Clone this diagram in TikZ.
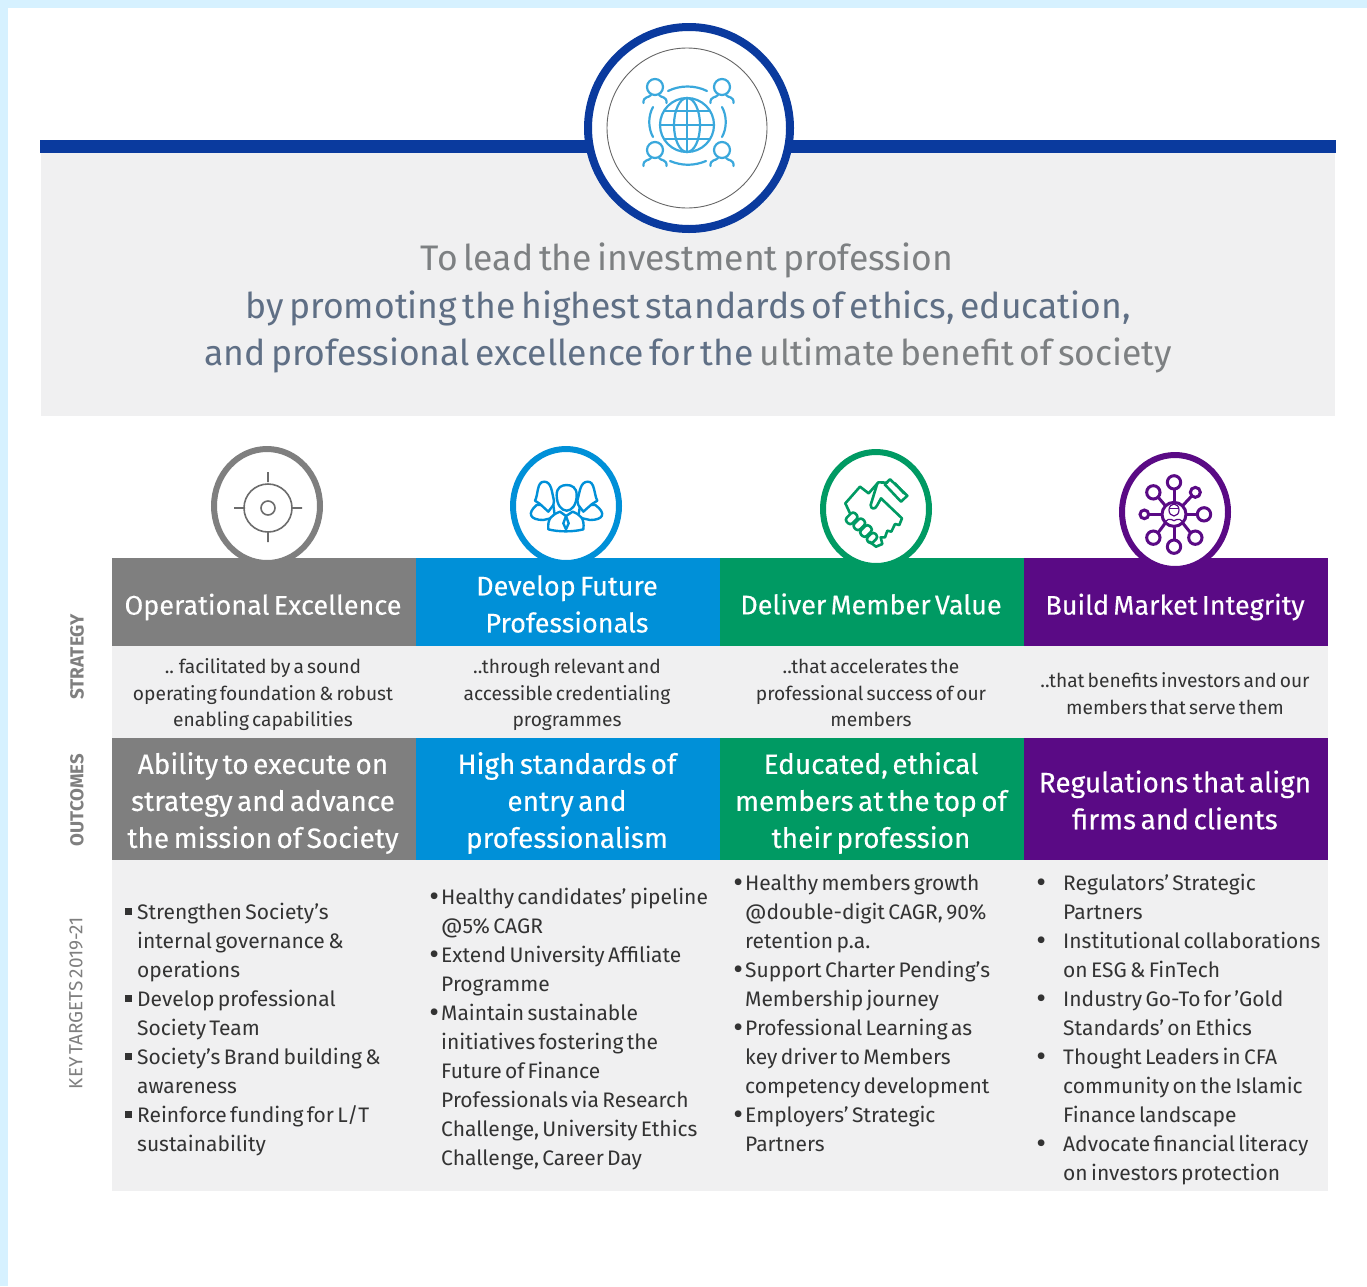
\documentclass[tikz,border=0pt]{standalone}
\usepackage{fontspec}
\setmainfont{Fira Sans}[WordSpace=0.6]
\newfontfamily\headf{Fira Sans}[WordSpace=0.6,FakeBold=0.25]
\definecolor{edgeblue}{HTML}{D6F1FF}
\definecolor{navy}{HTML}{0A3A9E}
\definecolor{panel}{HTML}{F0F0F1}
\definecolor{cgray}{HTML}{7F7F7F}
\definecolor{cblue}{HTML}{0090D8}
\definecolor{cgreen}{HTML}{009A63}
\definecolor{cpurple}{HTML}{5A0A85}
\definecolor{iconblue}{HTML}{3AA8DC}
\definecolor{sl}{HTML}{5F6F85}
\definecolor{gl}{HTML}{7D8082}
\definecolor{ink}{HTML}{333333}
\newcommand\fsz[2]{\fontsize{#1}{#2}\selectfont}
\tikzset{
  x=1pt,y=-1pt,
  headtxt/.style={text=white,align=center,inner sep=0pt,font=\headf\fsz{27}{37}},
  desctxt/.style={text=ink,align=center,inner sep=0pt,font=\fsz{19.2}{26.5}},
  outtxt/.style={text=white,align=center,inner sep=0pt,font=\headf\fsz{28}{37}},
  listtxt/.style={text=ink,anchor=base west,align=left,inner sep=0pt,font=\fsz{21}{29}},
  sidetxt/.style={text=cgray,rotate=90,inner sep=0pt},
  titletxt/.style={inner sep=0pt,font=\fsz{35.5}{47}},
  ring/.style={line width=6pt,fill=white},
}
\newcommand\bigdot{\raisebox{-2pt}{\fsz{30}{29}•}}
\newcommand\bul{\llap{\bigdot\hspace{2pt}}}
\newcommand\bulw{\llap{\bigdot\hspace{17pt}}}
\newcommand\sq{\llap{\rule[4.5pt]{7pt}{7pt}\hspace{5pt}}}
\newcommand\person[3]{%
  \draw[iconblue,line width=2.2pt,line cap=round] (#1,#2) circle[radius=8];
  \draw[iconblue,line width=2.2pt,line cap=round] (#1-11.5,#2+#3) .. controls (#1-12,#2+9) and (#1-6,#2+11) .. (#1-4,#2+8);
  \draw[iconblue,line width=2.2pt,line cap=round] (#1+11.5,#2+#3) .. controls (#1+12,#2+9) and (#1+6,#2+11) .. (#1+4,#2+8);
}
\begin{document}
\begin{tikzpicture}
\useasboundingbox (0,0) rectangle (1367,1286);
\fill[white] (0,0) rectangle (1367,1286);
\fill[edgeblue] (0,0) rectangle (1367,8);
\fill[edgeblue] (0,0) rectangle (8,1286);
% top panel
\fill[panel] (41,153) rectangle (1335,416);
\fill[navy] (40,140) rectangle (1336,153);
\draw[navy,line width=8pt,fill=white] (689,128) circle[radius=101];
\draw[black!60,line width=0.9pt] (687,128) circle[radius=80];
% globe icon
\begin{scope}
\draw[iconblue,line width=2.2pt] (687,125) circle[radius=27];
\draw[iconblue,line width=2.2pt] (687,125) ellipse[x radius=13,y radius=27];
\draw[iconblue,line width=2.2pt] (687,98) -- (687,152) (660,125) -- (714,125);
\draw[iconblue,line width=2.2pt] (664,111) -- (710,111) (664,139) -- (710,139);
\person{655}{87}{16}
\person{722}{87}{16}
\person{655}{150}{16}
\person{722}{150}{16}
\draw[iconblue,line width=2.2pt,line cap=round] (668,91) .. controls (680,85) and (695,85) .. (707,91);
\draw[iconblue,line width=2.2pt,line cap=round] (670,161) .. controls (682,166) and (694,166) .. (706,161);
\draw[iconblue,line width=2.2pt,line cap=round] (653,107) .. controls (648,116) and (648,128) .. (653,137);
\draw[iconblue,line width=2.2pt,line cap=round] (722,107) .. controls (727,116) and (727,128) .. (722,137);
\end{scope}
% title
\node[titletxt,text=gl] (t1) at (687,260.5) {To lead the investment profession};
\node[titletxt,text=sl] (t2) at (688,308.5) {by promoting the highest standards of ethics, education,};
\node[titletxt,text=sl] (t3) at (688,355.5) {and professional excellence for the {\color{gl}ultimate benefit of society}};
% bars
\foreach \xa/\c in {112/cgray,416/cblue,720/cgreen,1024/cpurple}{
  \fill[\c] (\xa,558) rectangle +(304,88);
  \fill[\c] (\xa,738) rectangle +(304,122);
}
\fill[panel] (112,646) rectangle (1328,738);
\fill[panel] (112,860) rectangle (1328,1191);
% rings
\draw[cgray,ring] (267,506) ellipse[x radius=53,y radius=57];
\draw[cblue,ring] (566,506) ellipse[x radius=53,y radius=57];
\draw[cgreen,ring] (876,509) ellipse[x radius=53,y radius=57];
\draw[cpurple,ring] (1175,512) ellipse[x radius=53,y radius=57];
% target icon
\draw[cgray!85!black,line width=1.6pt] (268,508) circle[radius=24] (268,508) circle[radius=7]
  (234,508) -- (245,508) (291,508) -- (302,508) (268,472) -- (268,482) (268,532) -- (268,542);
% people icon
\begin{scope}[shift={(190,430)},scale=1/3,cblue,line width=2.4pt,line join=round]
\draw[fill=white] (1040,225) .. controls (1010,250) and (1020,270) .. (1060,270) -- (1095,262) -- (1090,225) -- cycle;
\draw[fill=white] (1216,225) .. controls (1250,250) and (1240,270) .. (1200,270) -- (1165,262) -- (1170,225) -- cycle;
\draw[fill=white] (1035,212) .. controls (1045,195) and (1040,155) .. (1062,155) .. controls (1085,155) and (1085,185) .. (1092,212) -- (1090,225) -- (1075,245) -- (1050,222) -- cycle;
\draw[fill=white] (1222,212) .. controls (1212,195) and (1215,155) .. (1194,155) .. controls (1170,155) and (1170,185) .. (1162,212) -- (1165,225) -- (1180,245) -- (1206,222) -- cycle;
\draw[fill=white] (1075,298) .. controls (1072,265) and (1085,255) .. (1110,245) -- (1128,258) -- (1148,245) .. controls (1172,255) and (1184,265) .. (1180,298) .. controls (1150,306) and (1105,306) .. (1075,298) -- cycle;
\draw[fill=white] (1100,195) .. controls (1100,172) and (1115,165) .. (1130,165) .. controls (1145,165) and (1160,172) .. (1160,195) .. controls (1160,225) and (1145,242) .. (1130,242) .. controls (1115,242) and (1100,225) .. (1100,195) -- cycle;
\draw (1128,258) -- (1120,280) -- (1128,298) -- (1136,280) -- cycle;
\end{scope}
% handshake icon
\begin{scope}[shift={(800,430)},scale=1/3,cgreen,line width=2.6pt,line join=round,line cap=round]
\draw (136,220) -- (180,170) -- (206,190) -- (235,157) -- (262,158);
\draw (270,148) -- (322,197) -- (303,215) -- (254,163) -- cycle;
\draw (285,160) -- (312,190);
\draw (232,160) -- (212,225) .. controls (212,238) and (226,240) .. (232,225) -- (243,205) -- (306,265) -- (298,285) -- (285,282) -- (274,305) -- (262,302) -- (255,322) -- (242,322) -- (247,342) -- (228,350) -- (208,335);
\draw (136,220) -- (150,250);
\draw[rotate around={45:(155,265)},rounded corners=3pt] (137,253) rectangle (173,277);
\draw[rotate around={45:(178,283)},rounded corners=3pt] (160,271) rectangle (196,295);
\draw[rotate around={45:(198,303)},rounded corners=3pt] (180,291) rectangle (216,315);
\draw[rotate around={45:(216,324)},rounded corners=3pt] (200,313) rectangle (232,335);
\end{scope}
% network icon
\begin{scope}[shift={(800,430)},scale=1/3,cpurple,line width=3pt]
\draw (1122,253) circle[radius=36];
\draw (1122,177) -- (1122,217) (1122,289) -- (1122,330);
\draw (1046,253) -- (1086,253) (1158,253) -- (1193,253);
\draw (1073,200) -- (1096,227) (1176,197) -- (1148,227);
\draw (1073,310) -- (1096,279) (1173,310) -- (1148,279);
\draw (1122,157) circle[radius=20] (1122,350) circle[radius=20] (1033,253) circle[radius=13] (1212,253) circle[radius=20]
 (1060,187) circle[radius=20] (1186,187) circle[radius=15] (1060,323) circle[radius=20] (1186,323) circle[radius=20];
\draw[line width=1.2pt] (1122,240) ellipse[x radius=15,y radius=18] (1095,283) .. controls (1098,265) and (1110,265) .. (1122,272) .. controls (1134,265) and (1146,265) .. (1149,283);
\draw[line width=1.2pt] (1107,235) -- (1137,235);
\end{scope}
% headings
\node[headtxt] (h1) at (263,607) {Operational Excellence};
\node[headtxt] (h2) at (567,604) {Develop Future\\Professionals};
\node[headtxt] (h3) at (871,604) {Deliver Member Value};
\node[headtxt] (h4) at (1175,607) {Build Market Integrity};
% descriptions
\node[desctxt] (d1) at (263,695) {.. facilitated by a sound\\operating foundation \& robust\\enabling capabilities};
\node[desctxt] (d2) at (567,695) {..through relevant and\\accessible credentialing\\programmes};
\node[desctxt] (d3) at (871,693) {..that accelerates the\\professional success of our\\members};
\node[desctxt] (d4) at (1175,693.5) {..that benefits investors and our\\members that serve them};
% outcomes
\node[outtxt] (o1) at (263,803) {Ability to execute on\\strategy and advance\\the mission of Society};
\node[outtxt] (o2) at (567,803) {High standards of\\entry and\\professionalism};
\node[outtxt] (o3) at (871,803) {Educated, ethical\\members at the top of\\their profession};
\node[outtxt] (o4) at (1175,800) {Regulations that align\\firms and clients};
% side labels
\node[sidetxt,font=\fsz{19}{20}\bfseries] (s1) at (77,657) {STRATEGY};
\node[sidetxt,font=\fsz{18.6}{20}\bfseries] (s2) at (77,800) {OUTCOMES};
\node[sidetxt,font=\fsz{19}{20}] (s3) at (76,1003) {KEY TARGETS 2019-21};
% lists
\node[listtxt] (a1) at (137,977) {\sq Strengthen Society’s\\internal governance \&\\operations};
\node[listtxt] (a2) at (137,1035) {\sq Develop professional\\Society Team};
\node[listtxt] (a3) at (137,1093) {\sq Society’s Brand building \&\\awareness};
\node[listtxt] (a4) at (137,1151) {\sq Reinforce funding for L/T\\sustainability};
\node[listtxt] (b1) at (441,933) {\bul Healthy candidates’ pipeline\\@5\% CAGR};
\node[listtxt] (b2) at (441,991) {\bul Extend University Affiliate\\Programme};
\node[listtxt] (b3) at (441,1165) {\bul Maintain sustainable\\initiatives fostering the\\Future of Finance\\Professionals via Research\\Challenge, University Ethics\\Challenge, Career Day};
\node[listtxt] (c1) at (745,948) {\bul Healthy members growth\\@double-digit CAGR, 90\%\\retention p.a.};
\node[listtxt] (c2) at (745,1006) {\bul Support Charter Pending’s\\Membership journey};
\node[listtxt] (c3) at (745,1093) {\bul Professional Learning as\\key driver to Members\\competency development};
\node[listtxt] (c4) at (745,1151) {\bul Employers’ Strategic\\Partners};
\node[listtxt] (e1) at (1063,919) {\bulw Regulators’ Strategic\\Partners};
\node[listtxt] (e2) at (1063,977) {\bulw Institutional collaborations\\on ESG \& FinTech};
\node[listtxt] (e3) at (1063,1035) {\bulw Industry Go-To for ’Gold\\Standards’ on Ethics};
\node[listtxt] (e4) at (1063,1122) {\bulw Thought Leaders in CFA\\community on the Islamic\\Finance landscape};
\node[listtxt] (e5) at (1063,1180) {\bulw Advocate financial literacy\\on investors protection};
\end{tikzpicture}
\end{document}
